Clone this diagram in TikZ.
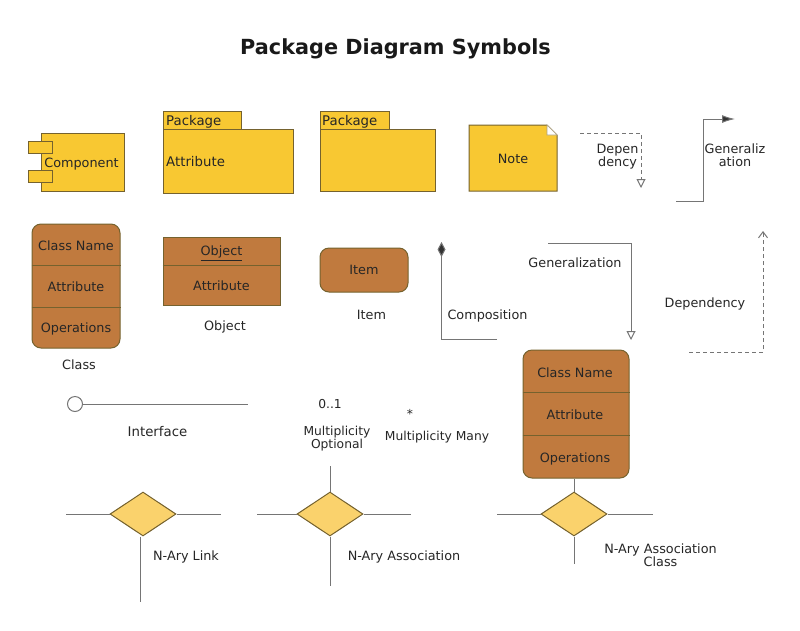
\documentclass[tikz,border=0pt]{standalone}
\usepackage{fontspec}
\setmainfont{DejaVu Sans}
\usetikzlibrary{arrows.meta,shapes.geometric}
\definecolor{boxyellow}{HTML}{F8C832}
\definecolor{boxbrown}{HTML}{C07A3E}
\definecolor{diayellow}{HTML}{FAD26C}
\definecolor{boxline}{HTML}{75622E}
\definecolor{wireline}{HTML}{757575}
\tikzset{
  txt/.style={font=\fontsize{12.8}{13.5}\selectfont,text=black!85,inner sep=0pt,align=center,yshift=-2.2pt,
    execute at begin node=\strut,execute at end node=\strut},
  smalltxt/.style={txt,font=\fontsize{12.3}{13.5}\selectfont},
  bigtxt/.style={txt,font=\fontsize{13.3}{13.5}\selectfont},
  yellowbox/.style={draw=boxline,fill=boxyellow,line width=1pt,inner sep=0pt},
  brownbox/.style={draw=boxline,fill=boxbrown,line width=1pt,inner sep=0pt},
  divider/.style={draw=boxline,line width=0.9pt},
  nary/.style={diamond,draw=boxline,fill=diayellow,line width=1pt,inner sep=0pt,aspect=1.5,minimum width=66pt,minimum height=44pt},
  wire/.style={draw=wireline,line width=1pt},
  dashwire/.style={wire,dash pattern=on 4pt off 3pt}
}
\begin{document}
\begin{tikzpicture}[x=1pt,y=-1pt]
  \useasboundingbox (0,0) rectangle (800,630);
  \node[font=\bfseries\fontsize{20.8}{22}\selectfont,text=black!90,inner sep=0pt] (title) at (395.5,49) {Package Diagram Symbols};
  % Component
  \node[yellowbox,minimum width=83pt,minimum height=58pt] (comp) at (82.5,162) {};
  \node[yellowbox,minimum width=24pt,minimum height=12pt] (comptop) at (40,147) {};
  \node[yellowbox,minimum width=24pt,minimum height=12pt] (compbot) at (40,176) {};
  \node[txt] (complabel) at (81.5,162.5) {Component};
  % Package with attribute
  \node[yellowbox,minimum width=78pt,minimum height=18pt] (packatab) at (202,120) {};
  \node[yellowbox,minimum width=130pt,minimum height=64pt] (packa) at (228,161) {};
  \node[bigtxt,anchor=west] (packatext) at (166,120) {Package};
  \node[bigtxt,anchor=west] (packaattr) at (166,161.5) {Attribute};
  % Package
  \node[yellowbox,minimum width=69pt,minimum height=18pt] (packbtab) at (354.5,120) {};
  \node[yellowbox,minimum width=115pt,minimum height=62pt] (packb) at (377.5,160) {};
  \node[bigtxt,anchor=west] (packbtext) at (322,120) {Package};
  % Note
  \draw[yellowbox] (469,125) -- (547,125) -- (557,135) -- (557,191) -- (469,191) -- cycle;
  \draw[draw=boxline!60,fill=white,line width=0.7pt] (547,125) -- (547,135) -- (557,135) -- cycle;
  \node[txt] (note) at (513,159) {Note};
  % Dependency, top
  \coordinate (depastart) at (580,133);
  \coordinate (depaend) at (641,188);
  \draw[dashwire,-{Triangle[open,length=9pt,width=9pt,fill=white]}] (depastart) -| (depaend);
  \node[txt] (depatext) at (617.5,155) {Depen\\dency};
  % Generalization, top
  \coordinate (genastart) at (676,201);
  \coordinate (genabend) at (703,119);
  \coordinate (genaend) at (735,119);
  \draw[wire,-{Latex[length=13pt,width=8pt,fill=black!80]}] (genastart) -- (genastart -| genabend) -- (genabend) -- (genaend);
  \node[txt] (genatext) at (735,155) {Generaliz\\ation};
  % Class
  \node[brownbox,rounded corners=9pt,minimum width=88pt,minimum height=124pt] (classa) at (76,286) {};
  \draw[divider] (classa.west |- 0,265) -- (classa.east |- 0,265);
  \draw[divider] (classa.west |- 0,307) -- (classa.east |- 0,307);
  \node[txt] (classaname) at (76,245.5) {Class Name};
  \node[txt] (classaattr) at (76,286.5) {Attribute};
  \node[txt] (classaoper) at (76,327.5) {Operations};
  \node[txt] (classatext) at (79,364) {Class};
  % Object
  \node[brownbox,minimum width=117pt,minimum height=68pt] (object) at (221.5,271) {};
  \draw[divider] (object.west |- 0,265) -- (object.east |- 0,265);
  \node[txt] (objectname) at (221.5,251) {\underline{Object}};
  \node[txt] (objectattr) at (221.5,285) {Attribute};
  \node[txt] (objecttext) at (225,325.5) {Object};
  % Item
  \node[brownbox,rounded corners=9pt,minimum width=88pt,minimum height=44pt] (item) at (364,270) {};
  \node[txt] (itemname) at (364,270) {Item};
  \node[txt] (itemtext) at (371.5,314.5) {Item};
  % Composition
  \coordinate (compostart) at (497,339);
  \coordinate (compoend) at (441.5,242);
  \draw[wire,-{Diamond[length=15pt,width=8pt,fill=black!80]}] (compostart) -| (compoend);
  \node[txt] (compotext) at (487.5,314.5) {Composition};
  % Generalization, middle
  \coordinate (genbstart) at (548,243);
  \coordinate (genbend) at (631,340);
  \draw[wire,-{Triangle[open,length=9pt,width=9pt,fill=white]}] (genbstart) -| (genbend);
  \node[txt] (genbtext) at (575,262) {Generalization};
  % Dependency, right
  \coordinate (depbstart) at (689,352);
  \coordinate (depbend) at (763,231);
  \draw[dashwire,-{Straight Barb[length=6pt,width=9pt]}] (depbstart) -| (depbend);
  \node[txt] (depbtext) at (705,302) {Dependency};
  % Class with association
  \node[brownbox,rounded corners=9pt,minimum width=106pt,minimum height=128pt] (classb) at (576,414) {};
  \draw[divider] (classb.west |- 0,392) -- (classb.east |- 0,392);
  \draw[divider] (classb.west |- 0,435) -- (classb.east |- 0,435);
  \node[txt] (classbname) at (575,372) {Class Name};
  \node[txt] (classbattr) at (575,414) {Attribute};
  \node[txt] (classboper) at (575,457.5) {Operations};
  % Interface
  \node[circle,draw=wireline,fill=white,line width=1pt,minimum size=15pt,inner sep=0pt] (iface) at (75,404) {};
  \coordinate (ifaceend) at (248,404);
  \draw[wire] (iface) -- (ifaceend);
  \node[bigtxt] (ifacetext) at (157.5,431.5) {Interface};
  % Multiplicity
  \node[smalltxt] (multone) at (330,404) {0..1};
  \node[smalltxt] (multonetext) at (337,437) {Multiplicity\\Optional};
  \node[smalltxt] (multmany) at (410,414) {*};
  \node[smalltxt] (multmanytext) at (437,435.5) {Multiplicity Many};
  % N-Ary Link
  \node[nary] (naryl) at (143,514) {};
  \coordinate (narylwest) at (66,514);
  \coordinate (naryleast) at (221,514);
  \coordinate (narylsouth) at (140,602);
  \draw[wire] (narylwest) -- (naryl.west);
  \draw[wire] (naryl.east) -- (naryleast);
  \draw[wire] (narylsouth |- naryl.south) -- (narylsouth);
  \node[txt] (naryltext) at (186,555) {N-Ary Link};
  % N-Ary Association
  \node[nary] (narya) at (330,514) {};
  \coordinate (naryawest) at (257,514);
  \coordinate (naryaeast) at (411,514);
  \coordinate (naryanorth) at (330,466);
  \coordinate (naryasouth) at (330,586);
  \draw[wire] (naryawest) -- (narya.west);
  \draw[wire] (narya.east) -- (naryaeast);
  \draw[wire] (naryanorth) -- (narya.north);
  \draw[wire] (narya.south) -- (naryasouth);
  \node[txt] (naryatext) at (404,555) {N-Ary Association};
  % N-Ary Association Class
  \node[nary] (naryc) at (574,514) {};
  \coordinate (narycwest) at (497,514);
  \coordinate (naryceast) at (653,514);
  \coordinate (narycsouth) at (574,564);
  \draw[wire] (narycwest) -- (naryc.west);
  \draw[wire] (naryc.east) -- (naryceast);
  \draw[wire] (classb.south -| naryc.north) -- (naryc.north);
  \draw[wire] (naryc.south) -- (narycsouth);
  \node[txt] (naryctext) at (660.5,555) {N-Ary Association\\Class};
\end{tikzpicture}
\end{document}
